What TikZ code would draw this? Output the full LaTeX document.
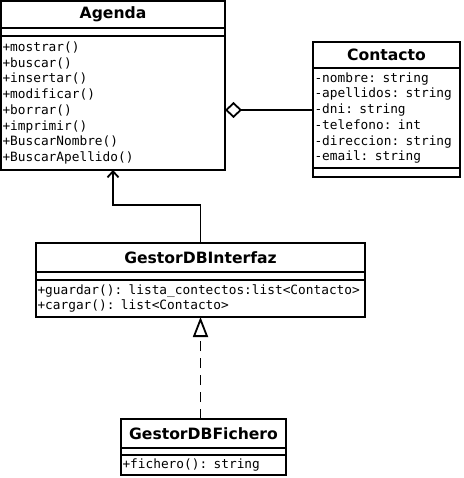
\documentclass[tikz,border=0pt]{standalone}
\usepackage{fontspec}
\setmainfont{DejaVu Sans}
\setmonofont{DejaVu Sans Mono}
\usetikzlibrary{arrows.meta,positioning}

\tikzset{
  classname/.style={draw, line width=1.8pt, inner sep=0pt, outer sep=0pt, anchor=north west, font=\bfseries\fontsize{15.6}{18}\selectfont},
  compart/.style={draw, line width=1.8pt, inner xsep=1.5pt, inner ysep=0pt, outer sep=0pt, anchor=north west, align=left, font=\ttfamily\fontsize{12.8}{15.75}\selectfont},
  uml/.style={line width=1.8pt},
}

\begin{document}
\begin{tikzpicture}[x=1pt,y=-1pt]
\useasboundingbox (0,0) rectangle (463,478);
\node[classname, minimum width=224pt, minimum height=27pt] (agenda) at (1,1) {Agenda};
\node[compart, minimum width=224pt, minimum height=8pt] (agendaAttr) at (agenda.south west) {};
\node[compart, text width=221pt, minimum height=134pt] (agendaMeth) at (agendaAttr.south west) {+mostrar()\\+buscar()\\+insertar()\\+modificar()\\+borrar()\\+imprimir()\\+BuscarNombre()\\+BuscarApellido()};
\node[classname, minimum width=147pt, minimum height=26pt] (contacto) at (313,42) {Contacto};
\node[compart, text width=144pt, minimum height=100pt] (contactoAttr) at (contacto.south west) {-nombre: string\\-apellidos: string\\-dni: string\\-telefono: int\\-direccion: string\\-email: string};
\node[compart, minimum width=147pt, minimum height=9pt] (contactoMeth) at (contactoAttr.south west) {};
\node[classname, minimum width=329pt, minimum height=29pt] (interfaz) at (36,243) {GestorDBInterfaz};
\node[compart, minimum width=329pt, minimum height=8pt] (interfazAttr) at (interfaz.south west) {};
\node[compart, text width=326pt, minimum height=37pt] (interfazMeth) at (interfazAttr.south west) {+guardar(): lista\_contectos:list<Contacto>\\+cargar(): list<Contacto>};
\node[classname, minimum width=165pt, minimum height=29pt] (fichero) at (121,419) {GestorDBFichero};
\node[compart, minimum width=165pt, minimum height=7pt] (ficheroAttr) at (fichero.south west) {};
\node[compart, text width=162pt, minimum height=20pt] (ficheroMeth) at (ficheroAttr.south west) {+fichero(): string};
\draw[uml, -{Diamond[open, length=17pt, width=16pt]}] ([yshift=8pt]contactoAttr.west) coordinate (aggr) -- (agendaMeth.east |- aggr);
\draw[uml, -{Straight Barb[length=6pt, width=11pt]}] (interfaz.north) -- ++(0,-38) -| (agendaMeth.south);
\draw[uml, dash pattern=on 10pt off 7pt, -{Triangle[open, fill=white, length=20pt, width=15pt]}] (interfazMeth.south |- fichero.north) -- (interfazMeth.south);
\end{tikzpicture}
\end{document}
